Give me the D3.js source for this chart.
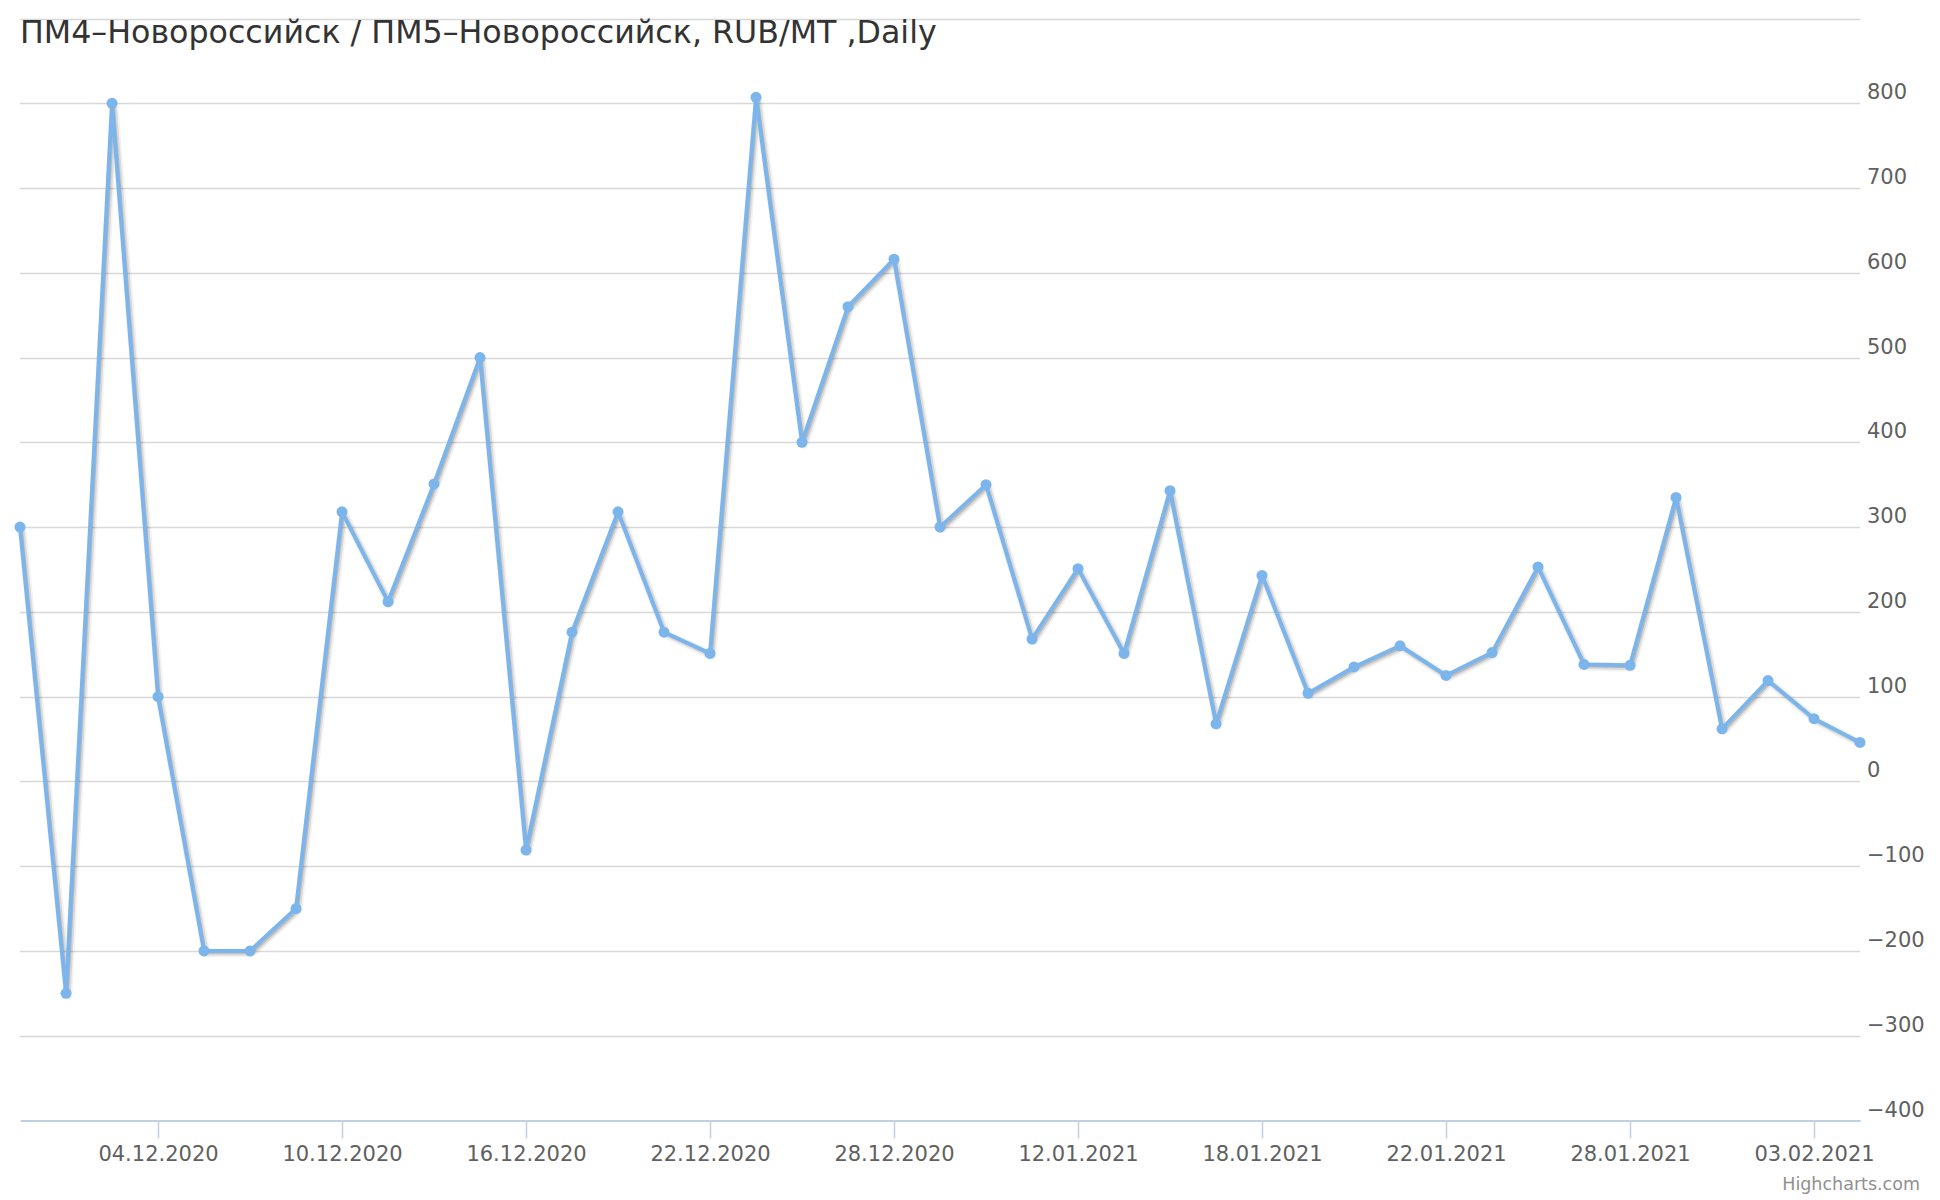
<!DOCTYPE html>
<html>
<head>
<meta charset="utf-8">
<script src="https://cdn.jsdelivr.net/npm/d3@7"></script>
<style>
  body { margin: 0; background: #fff; }
  svg { display: block; font-family: "DejaVu Sans", sans-serif; }
</style>
</head>
<body>
<svg id="chart"></svg>
<script>
var chartTitle = "ПМ4–Новороссийск / ПМ5–Новороссийск, RUB/MT ,Daily";

var dates = ["01.12.2020","02.12.2020","03.12.2020","04.12.2020","07.12.2020","08.12.2020",
  "09.12.2020","10.12.2020","11.12.2020","14.12.2020","15.12.2020","16.12.2020","17.12.2020",
  "18.12.2020","21.12.2020","22.12.2020","23.12.2020","24.12.2020","25.12.2020","28.12.2020",
  "29.12.2020","30.12.2020","11.01.2021","12.01.2021","13.01.2021","14.01.2021","15.01.2021",
  "18.01.2021","19.01.2021","20.01.2021","21.01.2021","22.01.2021","25.01.2021","26.01.2021",
  "27.01.2021","28.01.2021","29.01.2021","01.02.2021","02.02.2021","03.02.2021","04.02.2021"];

var spread = [300, -250, 800, 100, -200, -200, -150, 318, 212, 351, 500, -81, 176, 318, 176,
  151, 807, 400, 560, 616, 300, 350, 168, 251, 151, 343, 68, 243, 104, 135, 160, 125,
  152, 253, 138, 137, 335, 62, 119, 74, 46];

var yTicks = [-400, -300, -200, -100, 0, 100, 200, 300, 400, 500, 600, 700, 800, 900];
var xTickDates = dates.filter(function(d, i) { return i % 4 === 3; });

var width = 1940, height = 1200;
var plot = {left: 20, right: 1860, top: 18.5, bottom: 1120.5};
var lineColor = "#7cb5ec";

var svg = d3.select("#chart").attr("width", width).attr("height", height);

var x = d3.scalePoint()
  .domain(dates)
  .range([plot.left, plot.right]);

var y = d3.scaleLinear()
  .domain([-400, 900])
  .range([plot.bottom, plot.top]);

// grid lines
svg.append("g")
  .selectAll("line")
  .data(yTicks.filter(function(d) { return d !== -400; }))
  .enter().append("line")
  .attr("x1", plot.left)
  .attr("x2", plot.right)
  .attr("y1", function(d) { return Math.round(y(d)) + 0.5; })
  .attr("y2", function(d) { return Math.round(y(d)) + 0.5; })
  .attr("stroke", "#d8d8d8")
  .attr("stroke-width", 1.5);

// y labels on the right, sitting just above their grid line
svg.append("g")
  .selectAll("text")
  .data(yTicks.filter(function(d) { return d !== 900; }))
  .enter().append("text")
  .attr("x", plot.right + 7)
  .attr("y", function(d) { return y(d) - 4; })
  .style("font-size", "21px")
  .style("fill", "#606060")
  .text(function(d) { return d < 0 ? "\u2212" + Math.abs(d) : d; });

// x axis
var xAxis = d3.axisBottom(x)
  .tickValues(xTickDates)
  .tickSize(18)
  .tickPadding(0)
  .tickSizeOuter(0);

var gx = svg.append("g")
  .attr("transform", "translate(0," + plot.bottom + ")")
  .call(xAxis);
gx.select(".domain").attr("stroke", "#c0d0e0").attr("stroke-width", 2);
gx.selectAll(".tick line").attr("stroke", "#c0d0e0").attr("stroke-width", 1.5);
gx.selectAll(".tick text")
  .attr("y", 40)
  .attr("dy", null)
  .style("font-size", "21px")
  .style("font-family", "DejaVu Sans, sans-serif")
  .style("fill", "#606060");

// series line with Highcharts-like shadow
var line = d3.line()
  .x(function(d, i) { return x(dates[i]); })
  .y(function(d) { return y(d); });

var shadowWidths = [8.75, 5.25, 1.75];
shadowWidths.forEach(function(w, i) {
  svg.append("path")
    .datum(spread)
    .attr("d", line)
    .attr("transform", "translate(2,2)")
    .attr("fill", "none")
    .attr("stroke", "#000")
    .attr("stroke-opacity", 0.05 * (i + 1))
    .attr("stroke-width", w)
    .attr("stroke-linejoin", "round");
});

svg.append("path")
  .datum(spread)
  .attr("d", line)
  .attr("fill", "none")
  .attr("stroke", lineColor)
  .attr("stroke-width", 4)
  .attr("stroke-linejoin", "round")
  .attr("stroke-linecap", "round");

svg.append("g")
  .selectAll("circle")
  .data(spread)
  .enter().append("circle")
  .attr("cx", function(d, i) { return x(dates[i]); })
  .attr("cy", function(d) { return y(d); })
  .attr("r", 5.5)
  .attr("fill", lineColor);

// title
svg.append("text")
  .attr("x", 20)
  .attr("y", 43)
  .style("font-size", "31.7px")
  .style("fill", "#333333")
  .text(chartTitle);

// credits
svg.append("text")
  .attr("x", 1920)
  .attr("y", 1190)
  .attr("text-anchor", "end")
  .style("font-size", "17.5px")
  .style("fill", "#909090")
  .text("Highcharts.com");
</script>
</body>
</html>
